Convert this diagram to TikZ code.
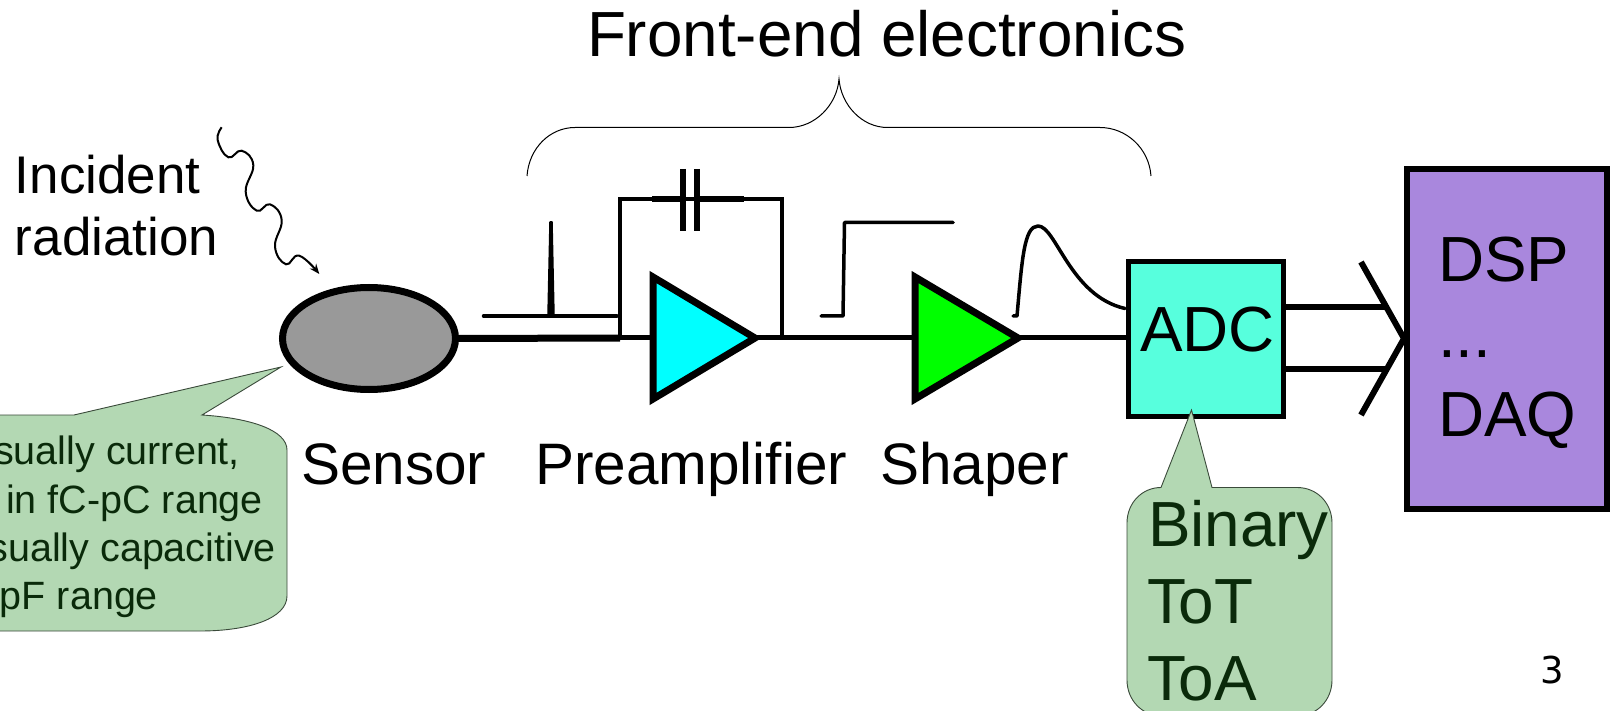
\documentclass[tikz,border=0pt]{standalone}
\usepackage{fontspec}
\setmainfont{Liberation Sans}
\newfontfamily\dejavu{DejaVu Sans}
\usetikzlibrary{shapes.geometric,arrows.meta}
\definecolor{calloutfill}{HTML}{B3D8B3}
\definecolor{callouttext}{HTML}{0A2A0A}
\definecolor{calloutline}{HTML}{3A4A3A}
\definecolor{sensorgray}{HTML}{999999}
\definecolor{adcfill}{HTML}{57FFDD}
\definecolor{dspfill}{HTML}{A987DD}
\definecolor{ampcyan}{HTML}{00FFFF}
\definecolor{ampgreen}{HTML}{00FF00}
\tikzset{
  txt/.style={inner sep=0pt,outer sep=0pt,anchor=base west,text=black,font=\fontsize{63.8}{63.8}\selectfont},
  midtxt/.style={txt,font=\fontsize{58.5}{58.5}\selectfont},
  inctxt/.style={txt,font=\fontsize{53}{53}\selectfont},
  smalltxt/.style={inner sep=0pt,outer sep=0pt,anchor=base east,text=callouttext,font=\fontsize{39.5}{39.5}\selectfont},
  greentxt/.style={txt,text=callouttext},
  amp/.style={draw=black,line width=7pt,line join=miter,miter limit=10},
  box/.style={rectangle,draw=black,inner sep=0pt,outer sep=0pt},
  wire/.style={draw=black,line width=5pt},
  thin wave/.style={draw=black,line width=2pt},
  pulse/.style={draw=black,line width=3.5pt,line cap=round,line join=round},
  callout/.style={draw=calloutline,line width=0.9pt,fill=calloutfill},
}
\begin{document}
\begin{tikzpicture}[x=1pt,y=-1pt]
\useasboundingbox (0,0) rectangle (1610,711);
\fill[white] (0,0) rectangle (1610,711);

% main blocks
\node[ellipse,draw=black,fill=sensorgray,line width=7pt,minimum width=173pt,minimum height=102pt,inner sep=0pt,outer sep=0pt] (sensor) at (369,338.5) {};
\coordinate (preIn) at (653,338);
\coordinate (preTop) at (653,277);
\coordinate (preBot) at (653,399);
\coordinate (preApex) at (755,338);
\coordinate (shIn) at (915,338);
\coordinate (shTop) at (915,277);
\coordinate (shBot) at (915,399);
\coordinate (shApex) at (1018,338);
\draw[amp,fill=ampcyan] (preTop) -- (preApex) -- (preBot) -- cycle;
\draw[amp,fill=ampgreen] (shTop) -- (shApex) -- (shBot) -- cycle;
\node[box,fill=adcfill,line width=5pt,minimum width=155pt,minimum height=155pt] (adc) at (1206,339) {};
\node[box,fill=dspfill,line width=5.5pt,minimum width=200pt,minimum height=340pt] (dsp) at (1507,339) {};

\coordinate (j1) at (620,338);
\coordinate (j2) at (782,338);
\coordinate (fb1) at (620,199);
\coordinate (fb2) at (782,199);
\coordinate (capL) at (683,199);
\coordinate (capR) at (697,199);

% signal chain
\draw[draw=black,line width=7pt] (sensor.east) -- (j1);
\draw[wire] (j1) -- (preIn);
\draw[wire] (preApex) -- (j2) -- (shIn);
\draw[wire] (shApex) -- (adc.west |- shApex);

% feedback capacitor
\draw[draw=black,line width=4pt,line join=miter] (j1) -- (fb1) -- (fb2) -- (j2);
\draw[draw=black,line width=6pt] (652,199) -- (capL);
\draw[draw=black,line width=6pt] (capR) -- (744,199);
\draw[draw=black,line width=5.4pt] (683,169) -- (683,231);
\draw[draw=black,line width=5.4pt] (697,169) -- (697,231);

% ADC to DSP
\coordinate (o1) at (1386,307.5);
\coordinate (o2) at (1386,369);
\coordinate (v1) at (1361,262);
\coordinate (v2) at (1404,338.5);
\coordinate (v3) at (1361,415);
\draw[draw=black,line width=6pt] (adc.east |- o1) -- (o1);
\draw[draw=black,line width=6pt] (adc.east |- o2) -- (o2);
\draw[draw=black,line width=6pt,line join=miter] (v1) -- (v2) -- (v3);

% pulse shapes
\draw[pulse] (483.5,316) -- (617,316);
\draw[fill=black,draw=black,line width=1.5pt,line join=round] (548,316) -- (550,222) -- (552,222) -- (554,316) -- cycle;
\draw[pulse] (821,316) -- (843,316) -- (844.5,222.5) -- (953,222.5);
\draw[pulse] (1013,316) -- (1017,316) .. controls (1022,260) and (1024,226) .. (1038,226)
  .. controls (1056,226) and (1070,296) .. (1125,308.5);

% brace
\draw[draw=black,line width=1pt] (527,176) .. controls (529,148) and (550,127.5) .. (575,127.5) -- (789,127.5)
  .. controls (815,127.5) and (837,105) .. (839,79) .. controls (841,105) and (862,127.5) .. (887.5,127.5)
  -- (1100,127.5) .. controls (1126,127.5) and (1149,148) .. (1151,176);

% radiation
\draw[thin wave,-{Stealth[length=10pt,width=8pt]}] plot[smooth,tension=0.75] coordinates {
 (221.7,127.3) (217.7,140) (228.3,157.3) (241.7,150.7) (253.3,165) (245.7,191.7) (256.7,210.7) (270,204.3) (281.7,220) (275,246.7) (286,264.3) (299.3,255.7) (319.3,274)};

% callouts
\draw[callout] (-5,415) -- (74,415) -- (281,367) -- (202,415)
  .. controls (250,418) and (287,430) .. (287,450) -- (287,596)
  .. controls (287,618) and (250,631) .. (200,631) -- (-5,631) -- cycle;
\draw[callout] (1191.5,410) -- (1212,487.5) -- (1297,487.5)
  .. controls (1317,487.5) and (1332,503) .. (1332,523) -- (1332,680)
  .. controls (1332,700) and (1317,716) .. (1297,716) -- (1162,716)
  .. controls (1142,716) and (1127,700) .. (1127,680) -- (1127,523)
  .. controls (1127,503) and (1142,487.5) .. (1161,487.5) -- cycle;

% labels
\node[txt] (title) at (587,57) {Front-end electronics};
\node[inctxt] (inc) at (15,193.5) {Incident};
\node[inctxt] (rad) at (15,256) {radiation};
\node[midtxt] (lsensor) at (301,484) {Sensor};
\node[midtxt] (lpre) at (535,484) {Preamplifier};
\node[midtxt] (lshaper) at (880,484) {Shaper};
\node[txt] (ladc) at (1140,352) {ADC};
\node[txt] (ldsp) at (1438,282) {DSP};
\node[txt] (ldots) at (1438,358) {...};
\node[txt] (ldaq) at (1438,436) {DAQ};
\node[greentxt] (lbin) at (1148,546) {Binary};
\node[greentxt] (ltot) at (1147,623) {ToT};
\node[greentxt] (ltoa) at (1147,700) {ToA};
\node[smalltxt] (c1) at (240,464) {sually current,};
\node[smalltxt] (c2) at (263,513) {in fC-pC range};
\node[smalltxt] (c3) at (276,561) {sually capacitive};
\node[smalltxt] (c4) at (158,609.5) {pF range};
\node[inner sep=0pt,anchor=base west,font=\dejavu\fontsize{37}{37}\selectfont] (pg) at (1540,683) {3};
\end{tikzpicture}
\end{document}
